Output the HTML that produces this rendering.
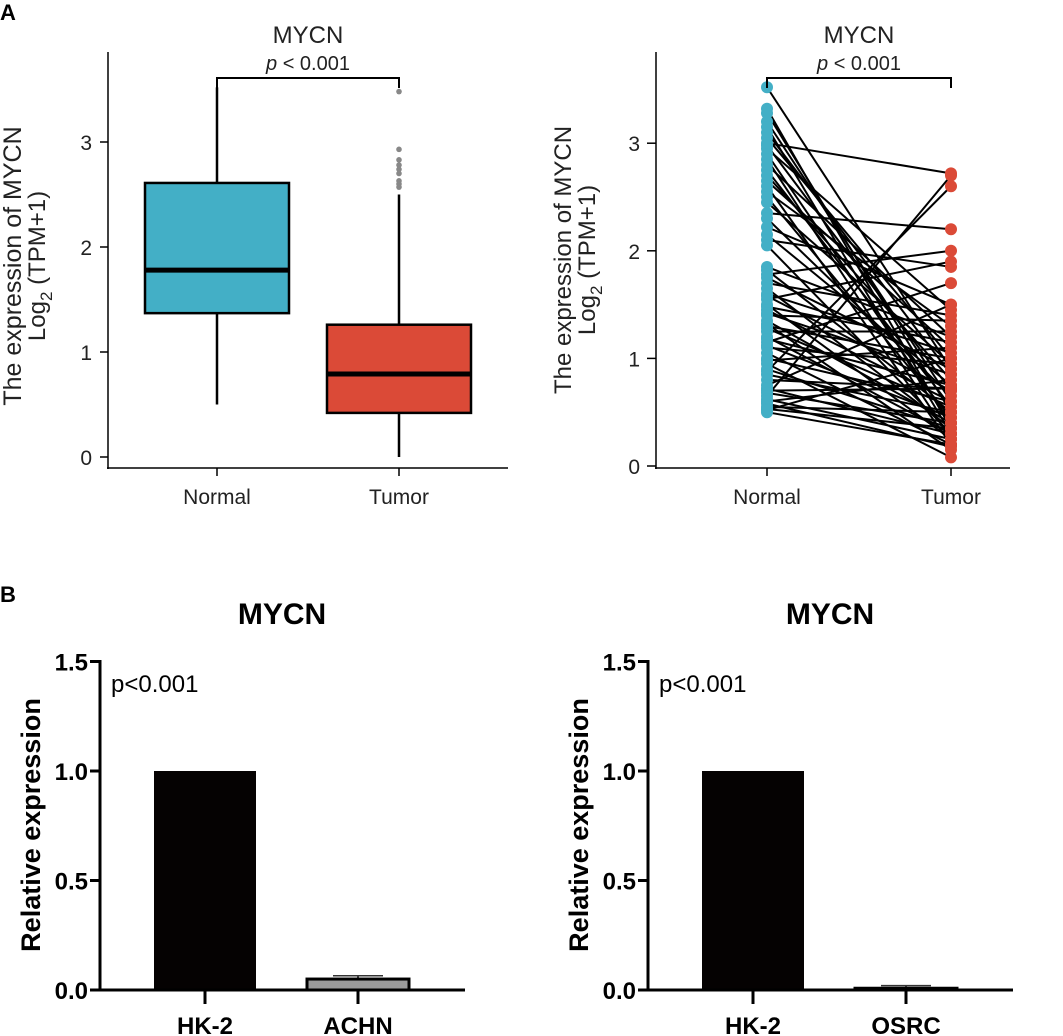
<!DOCTYPE html>
<html><head><meta charset="utf-8"><style>
body{margin:0;background:#fff;}
svg{display:block;font-family:"Liberation Sans",Arial,sans-serif;}
</style></head><body>
<svg id="fig" width="1063" height="1036" viewBox="0 0 1063 1036" xmlns="http://www.w3.org/2000/svg">
<text x="0" y="20" font-size="22" font-weight="bold">A</text>
<text x="0" y="602" font-size="22" font-weight="bold">B</text>
<g id="box"></g>
<g id="paired"></g>
<g id="bar1"></g>
<g id="bar2"></g>
</svg>
<script>
const boxGroups=["Normal","Tumor"];
const boxQ1=[1.37,0.42];
const boxMed=[1.78,0.79];
const boxQ3=[2.61,1.26];
const boxLo=[0.5,0.0];
const boxHi=[3.52,2.5];
const tumorOutliers=[2.57,2.6,2.63,2.7,2.74,2.78,2.83,2.93,3.48];
const yTicksA=[0,1,2,3];
const pairedNormal=[3.52,3.32,3.28,3.2,3.15,3.1,3.05,3.0,2.98,2.95,2.9,2.85,2.8,2.75,2.7,2.65,2.6,2.55,2.5,2.45,2.35,2.3,2.22,2.15,2.1,2.05,1.85,1.82,1.78,1.75,1.7,1.65,1.6,1.58,1.55,1.5,1.48,1.45,1.42,1.4,1.35,1.32,1.3,1.28,1.25,1.2,1.18,1.15,1.12,1.1,1.05,1.0,0.98,0.95,0.9,0.88,0.85,0.8,0.75,0.72,0.7,0.68,0.65,0.62,0.6,0.58,0.55,0.53,0.5,0.52];
const pairedTumor=[0.9,0.35,0.5,0.6,0.3,0.85,1.0,2.72,0.7,1.45,0.4,0.25,1.2,0.55,0.8,1.1,0.2,1.3,0.45,0.95,2.2,0.65,1.5,0.75,1.85,0.3,1.2,0.5,2.0,0.9,1.4,0.35,1.05,0.7,1.9,0.25,1.15,0.6,0.85,1.35,0.4,0.15,1.0,0.55,1.25,0.3,0.75,1.7,0.45,0.95,0.2,0.6,1.1,0.08,0.35,2.6,0.5,0.72,1.5,0.3,0.72,0.4,2.7,0.25,0.8,0.18,0.5,0.35,0.2,1.0];
const barCats1=["HK-2","ACHN"];
const barVals1=[1.0,0.05];
const barErr1=[0,0.015];
const barCats2=["HK-2","OSRC"];
const barVals2=[1.0,0.008];
const barErr2=[0,0.012];
const yTicksB=[0,0.5,1.0,1.5];
const yTickLabelsB=["0.0","0.5","1.0","1.5"];

const NS="http://www.w3.org/2000/svg";
function mk(parent,tag,attrs,text){const e=document.createElementNS(NS,tag);for(const k in attrs)e.setAttribute(k,attrs[k]);if(text!==undefined)e.textContent=text;parent.appendChild(e);return e;}

// ---------- Box plot ----------
(function(){
 const g=document.getElementById('box');
 const y=v=>457-v*105;
 const xs=[217,399], hw=72;
 let e=mk(g,'line',{x1:108,y1:52,x2:108,y2:469,stroke:'#000','stroke-width':1.5});
 
 e=mk(g,'line',{x1:107,y1:468,x2:508,y2:468,stroke:'#000','stroke-width':1.5});
 
 yTicksA.forEach(t=>{mk(g,'line',{x1:100,y1:y(t),x2:108,y2:y(t),stroke:'#000','stroke-width':1.5});
  e=mk(g,'text',{x:92,y:y(t)+8,'font-size':21,'text-anchor':'end',fill:'#222'},String(t));
  });
 boxGroups.forEach((n,i)=>{
  const cx=xs[i], fill=i===0?'#43afc6':'#db4a37';
  mk(g,'line',{x1:cx,y1:468,x2:cx,y2:476,stroke:'#000','stroke-width':1.5});
  e=mk(g,'text',{x:cx,y:504,'font-size':21,'text-anchor':'middle',fill:'#222'},n);
  
  mk(g,'line',{x1:cx,y1:y(boxHi[i]),x2:cx,y2:y(boxLo[i]),stroke:'#000','stroke-width':2.5});
  e=mk(g,'rect',{x:cx-hw,y:y(boxQ3[i]),width:2*hw,height:y(boxQ1[i])-y(boxQ3[i]),fill:fill,stroke:'#000','stroke-width':2.5});
  
  e=mk(g,'line',{x1:cx-hw,y1:y(boxMed[i]),x2:cx+hw,y2:y(boxMed[i]),stroke:'#000','stroke-width':5});
  
 });
 tumorOutliers.forEach(v=>{e=mk(g,'circle',{cx:xs[1],cy:y(v),r:2.8,fill:'#888'});
  });
 e=mk(g,'path',{d:'M217,88 V78 H399 V88',fill:'none',stroke:'#000','stroke-width':2});
 
 e=mk(g,'text',{x:308,y:43,'font-size':24,'text-anchor':'middle',fill:'#222'},'MYCN');
 
 e=mk(g,'text',{x:308,y:70,'font-size':20,'text-anchor':'middle',fill:'#222'});
 e.innerHTML='<tspan font-style="italic">p</tspan> &lt; 0.001';
 
 e=mk(g,'text',{transform:'translate(21,266) rotate(-90)','font-size':25,'text-anchor':'middle',fill:'#222'},'The expression of MYCN');
 
 e=mk(g,'text',{transform:'translate(45,266) rotate(-90)','font-size':24,'text-anchor':'middle',fill:'#222'});
 e.innerHTML='Log<tspan font-size="17" dy="7">2</tspan><tspan dy="-7"> (TPM+1)</tspan>';
 
})();

// ---------- Paired plot ----------
(function(){
 const g=document.getElementById('paired');
 const y=v=>466-v*107.6;
 const xs=[767,951];
 let e=mk(g,'line',{x1:656,y1:52,x2:656,y2:469,stroke:'#000','stroke-width':1.5});
 
 e=mk(g,'line',{x1:655,y1:468,x2:1010,y2:468,stroke:'#000','stroke-width':1.5});
 
 yTicksA.forEach(t=>{mk(g,'line',{x1:647,y1:y(t),x2:656,y2:y(t),stroke:'#000','stroke-width':1.5});
  e=mk(g,'text',{x:640,y:y(t)+8,'font-size':21,'text-anchor':'end',fill:'#222'},String(t));
  });
 boxGroups.forEach((n,i)=>{mk(g,'line',{x1:xs[i],y1:468,x2:xs[i],y2:476,stroke:'#000','stroke-width':1.5});
  e=mk(g,'text',{x:xs[i],y:504,'font-size':21,'text-anchor':'middle',fill:'#222'},n);
  });
 pairedNormal.forEach((v,i)=>{e=mk(g,'line',{x1:xs[0],y1:y(v),x2:xs[1],y2:y(pairedTumor[i]),stroke:'#000','stroke-width':2});
  });
 pairedNormal.forEach(v=>{e=mk(g,'circle',{cx:xs[0],cy:y(v),r:6,fill:'#43afc6'});
  });
 pairedTumor.forEach(v=>{e=mk(g,'circle',{cx:xs[1],cy:y(v),r:6,fill:'#db4a37'});
  });
 e=mk(g,'path',{d:'M767,88 V78 H951 V88',fill:'none',stroke:'#000','stroke-width':2});
 
 e=mk(g,'text',{x:859,y:43,'font-size':24,'text-anchor':'middle',fill:'#222'},'MYCN');
 
 e=mk(g,'text',{x:859,y:70,'font-size':20,'text-anchor':'middle',fill:'#222'});
 e.innerHTML='<tspan font-style="italic">p</tspan> &lt; 0.001';
 
 e=mk(g,'text',{transform:'translate(571,260) rotate(-90)','font-size':24,'text-anchor':'middle',fill:'#222'},'The expression of MYCN');
 
 e=mk(g,'text',{transform:'translate(595,260) rotate(-90)','font-size':24,'text-anchor':'middle',fill:'#222'});
 e.innerHTML='Log<tspan font-size="17" dy="7">2</tspan><tspan dy="-7"> (TPM+1)</tspan>';
 
})();

// ---------- Bar panels ----------
function barPanel(id,ax,cats,vals,errs){
 const g=document.getElementById(id);
 const y=v=>990-v*219;
 const bx=[ax+105,ax+258], bw=102;
 let e;
 yTicksB.forEach((t,i)=>{mk(g,'line',{x1:ax-10,y1:y(t),x2:ax,y2:y(t),stroke:'#000','stroke-width':3});
  e=mk(g,'text',{x:ax-12,y:y(t)+9,'font-size':24,'font-weight':'bold','text-anchor':'end',fill:'#000'},yTickLabelsB[i]);
  });
 cats.forEach((c,i)=>{
  const cx=bx[i];
  e=mk(g,'rect',{x:cx-bw/2,y:y(vals[i]),width:bw,height:990-y(vals[i]),fill:i===0?'#050202':'#9a9a9a',stroke:'#000','stroke-width':i===0?0:3});
  
  if(errs[i]>0){mk(g,'line',{x1:cx,y1:y(vals[i]),x2:cx,y2:y(vals[i]+errs[i]),stroke:'#000','stroke-width':1.5});
   e=mk(g,'line',{x1:cx-25,y1:y(vals[i]+errs[i]),x2:cx+25,y2:y(vals[i]+errs[i]),stroke:'#333','stroke-width':1.5});
   }
  mk(g,'line',{x1:cx,y1:990,x2:cx,y2:1004,stroke:'#000','stroke-width':3});
  e=mk(g,'text',{x:cx,y:1034,'font-size':24,'font-weight':'bold','text-anchor':'middle',fill:'#000'},c);
  
 });
 e=mk(g,'line',{x1:ax,y1:660,x2:ax,y2:991,stroke:'#000','stroke-width':3});
 
 e=mk(g,'line',{x1:ax-10,y1:990,x2:ax+365,y2:990,stroke:'#000','stroke-width':3});
 
 e=mk(g,'text',{x:ax+182,y:624,'font-size':30,'font-weight':'bold','text-anchor':'middle',fill:'#000'},'MYCN');
 
 e=mk(g,'text',{x:ax+11,y:692,'font-size':24,fill:'#000'},'p<0.001');
 
 e=mk(g,'text',{transform:'translate('+(ax-60)+',825) rotate(-90)','font-size':27,'font-weight':'bold','text-anchor':'middle',fill:'#000'},'Relative expression');
 
}
barPanel('bar1',100,barCats1,barVals1,barErr1);
barPanel('bar2',648,barCats2,barVals2,barErr2);
</script>
</body></html>
